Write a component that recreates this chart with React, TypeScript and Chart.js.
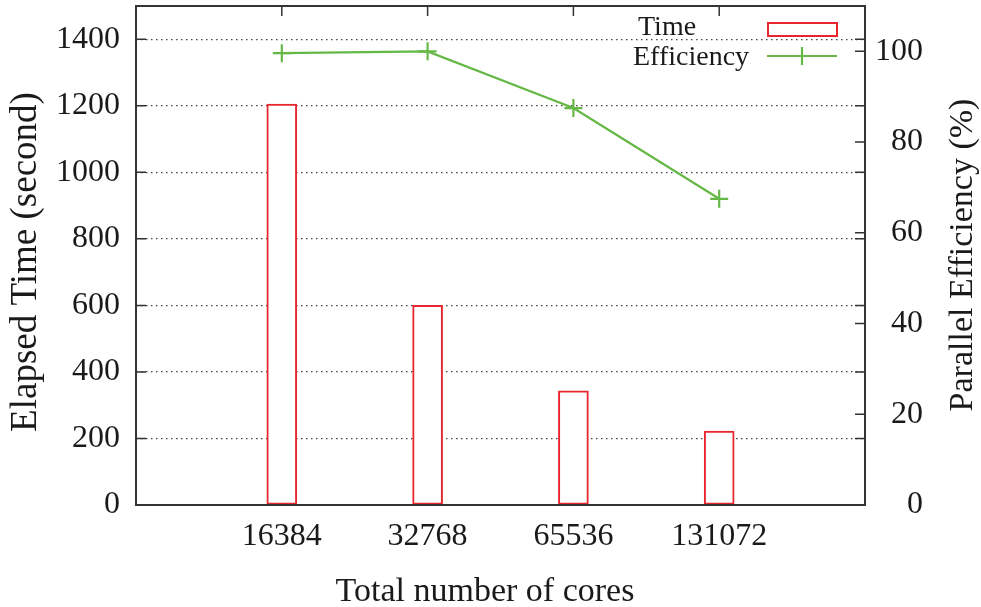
import React, { useEffect, useRef } from 'react';
import { Chart, registerables } from 'chart.js';

Chart.register(...registerables);

// ---- data ----
const categories: string[] = ['', '16384', '32768', '65536', '131072', ''];
const timeValues: (number | null)[] = [null, 1205, 600, 343, 222, null];
const efficiencyValues: (number | null)[] = [null, 99.6, 100, 87.5, 67.5, null];
const timeTicks: number[] = [0, 200, 400, 600, 800, 1000, 1200, 1400];
const effTicks: number[] = [0, 20, 40, 60, 80, 100];
const xTitle = 'Total number of cores';
const yTitle = 'Elapsed Time (second)';
const y2Title = 'Parallel Efficiency (%)';
const legendLabels = ['Time', 'Efficiency'];

const FONT = 'Liberation Serif';
const RED = '#e8262d';
const GREEN = '#66b846';
const INK = '#1a1a1a';
const FRAME = '#333333';

const decor = {
  id: 'decor',
  beforeDatasetsDraw(chart: any) {
    const { ctx, chartArea: a, scales } = chart;
    ctx.save();
    ctx.strokeStyle = FRAME;
    ctx.lineWidth = 1.5;
    ctx.beginPath();
    timeTicks.forEach((v) => {
      const y = scales.y.getPixelForValue(v);
      ctx.moveTo(a.left, y);
      ctx.lineTo(a.left + 10, y);
      ctx.moveTo(a.right, y);
      ctx.lineTo(a.right - 10, y);
    });
    effTicks.forEach((v) => {
      const y = scales.y2.getPixelForValue(v);
      ctx.moveTo(a.right, y);
      ctx.lineTo(a.right - 10, y);
    });
    categories.forEach((c, i) => {
      if (!c) return;
      const x = scales.x.getPixelForValue(i);
      ctx.moveTo(x, a.top);
      ctx.lineTo(x, a.top + 10);
      ctx.moveTo(x, a.bottom);
      ctx.lineTo(x, a.bottom - 10);
    });
    ctx.stroke();
    ctx.restore();
  },
  afterDatasetsDraw(chart: any) {
    const { ctx, chartArea: a } = chart;
    ctx.save();
    ctx.strokeStyle = FRAME;
    ctx.lineWidth = 2;
    ctx.strokeRect(a.left, a.top, a.right - a.left, a.bottom - a.top);
    ctx.restore();
  },
  afterDraw(chart: any) {
    const { ctx } = chart;
    ctx.save();
    ctx.fillStyle = INK;
    ctx.textAlign = 'center';
    ctx.textBaseline = 'alphabetic';
    // axis titles
    ctx.font = `34px "${FONT}"`;
    ctx.fillText(xTitle, 485, 601);

    ctx.save();
    ctx.font = `37px "${FONT}"`;
    ctx.translate(36, 262);
    ctx.rotate(-Math.PI / 2);
    ctx.fillText(yTitle, 0, 0);
    ctx.restore();

    ctx.save();
    ctx.font = `34px "${FONT}"`;
    ctx.translate(972, 255);
    ctx.rotate(-Math.PI / 2);
    ctx.fillText(y2Title, 0, 0);
    ctx.restore();

    // legend
    ctx.font = `28px "${FONT}"`;
    ctx.textAlign = 'left';
    ctx.fillText(legendLabels[0], 638, 35);
    ctx.fillText(legendLabels[1], 633, 65);

    ctx.strokeStyle = RED;
    ctx.lineWidth = 2;
    ctx.strokeRect(768, 23, 69, 13);

    ctx.strokeStyle = GREEN;
    ctx.lineWidth = 2.2;
    ctx.beginPath();
    ctx.moveTo(767, 56);
    ctx.lineTo(837, 56);
    ctx.moveTo(802, 47);
    ctx.lineTo(802, 65);
    ctx.stroke();
    ctx.restore();
  },
};

export default function App() {
  const ref = useRef<HTMLCanvasElement | null>(null);

  useEffect(() => {
    document.body.style.margin = '0';
    const canvas = ref.current;
    if (!canvas) return;
    const tickFont = { family: FONT, size: 32 };
    const plain = (v: any) => String(v);
    const chart = new Chart(canvas, {
      type: 'bar',
      data: {
        labels: categories,
        datasets: [
          {
            type: 'line',
            label: 'Efficiency',
            data: efficiencyValues as any,
            yAxisID: 'y2',
            borderColor: GREEN,
            borderWidth: 2.2,
            pointStyle: 'cross',
            pointRadius: 9,
            pointBorderWidth: 2.2,
            pointBorderColor: GREEN,
            pointBackgroundColor: GREEN,
            fill: false,
            tension: 0,
            order: 0,
          } as any,
          {
            type: 'bar',
            label: 'Time',
            data: timeValues as any,
            yAxisID: 'y',
            backgroundColor: '#ffffff',
            borderColor: RED,
            borderWidth: 2,
            borderSkipped: false,
            barThickness: 30,
            order: 1,
          } as any,
        ],
      },
      options: {
        responsive: false,
        animation: false,
        layout: { autoPadding: false, padding: { top: 6, right: 58, left: 0, bottom: 0 } },
        plugins: {
          legend: { display: false },
          tooltip: { enabled: false },
        },
        scales: {
          x: {
            type: 'category',
            offset: false,
            grid: { display: false, drawTicks: false },
            border: { display: false },
            ticks: {
              font: tickFont,
              color: INK,
              padding: 12,
              maxRotation: 0,
              autoSkip: false,
            },
            afterFit: (s: any) => {
              s.height = 102;
              s.paddingLeft = 0;
              s.paddingRight = 0;
            },
          },
          y: {
            type: 'linear',
            position: 'left',
            min: 0,
            max: 1500,
            grid: {
              color: '#444',
              lineWidth: 1.2,
              drawTicks: false,
            },
            border: { display: false, dash: [1.5, 3.5] },
            ticks: {
              stepSize: 200,
              includeBounds: false,
              font: tickFont,
              color: INK,
              padding: 16,
              callback: plain,
            },
            afterFit: (s: any) => {
              s.width = 136;
              s.paddingTop = 0;
              s.paddingBottom = 0;
            },
          },
          y2: {
            type: 'linear',
            position: 'right',
            min: 0,
            max: 110,
            grid: { drawOnChartArea: false, drawTicks: false },
            border: { display: false },
            ticks: {
              stepSize: 20,
              includeBounds: false,
              font: tickFont,
              color: INK,
              padding: 10,
              crossAlign: 'far',
              callback: plain,
            },
            afterFit: (s: any) => {
              s.width = 58;
              s.paddingTop = 0;
              s.paddingBottom = 0;
            },
          },
        },
      } as any,
      plugins: [decor],
    });
    return () => chart.destroy();
  }, []);

  return (
    <div style={{ width: 981, height: 607, background: '#fff' }}>
      <canvas ref={ref} width={981} height={607} style={{ display: 'block' }} />
    </div>
  );
}
